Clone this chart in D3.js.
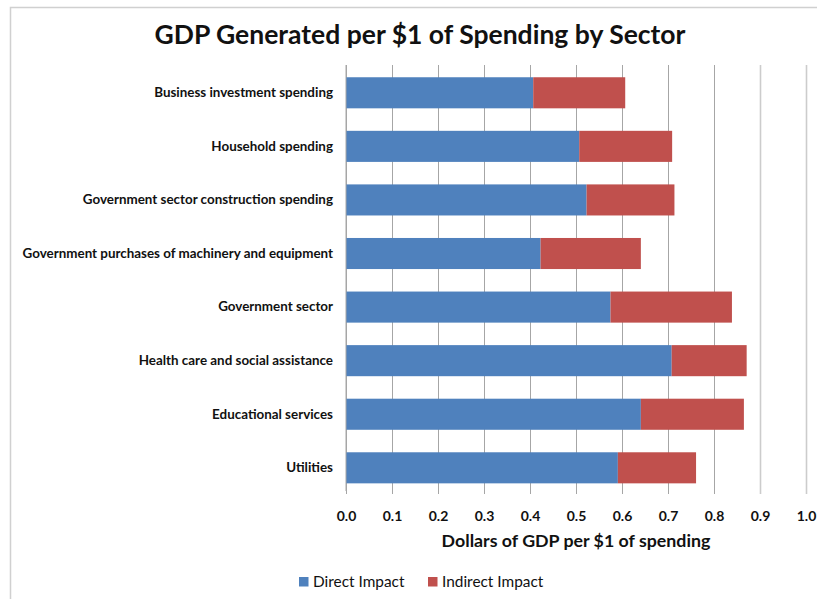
<!DOCTYPE html>
<html>
<head>
<meta charset="utf-8">
<script src="https://cdn.jsdelivr.net/npm/d3@7"></script>
<style>
  html, body { margin: 0; padding: 0; background: #fff; }
  svg { display: block; font-family: Lato, "Open Sans", sans-serif; }
</style>
</head>
<body>
<svg id="chart" width="817" height="599"></svg>
<script>
// Sectors, top to bottom
const sectors = [
  "Business investment spending",
  "Household spending",
  "Government sector construction spending",
  "Government purchases of machinery and equipment",
  "Government sector",
  "Health care and social assistance",
  "Educational services",
  "Utilities"
];
// GDP per $1 of spending
const directImpact   = [0.407, 0.507, 0.523, 0.423, 0.575, 0.708, 0.641, 0.591];
const indirectImpact = [0.200, 0.202, 0.191, 0.218, 0.264, 0.163, 0.224, 0.170];
const xTicks = [0, 0.1, 0.2, 0.3, 0.4, 0.5, 0.6, 0.7, 0.8, 0.9, 1.0];
const seriesNames = ["Direct Impact", "Indirect Impact"];
const seriesColors = ["#4f81bd", "#c0504d"];

const svg = d3.select("#chart");
const W = 817, H = 599;
const plot = { left: 346, right: 806, top: 65, bottom: 491 };

// outer frame
svg.append("rect")
  .attr("x", 10.5).attr("y", 7.5)
  .attr("width", W + 10).attr("height", H + 10)
  .attr("fill", "#fff").attr("stroke", "#d0d0d0").attr("stroke-width", 1.5);

const rows = sectors.map((s, i) => ({ sector: s, direct: directImpact[i], indirect: indirectImpact[i] }));
const stacked = d3.stack().keys(["direct", "indirect"])(rows);

const x = d3.scaleLinear().domain([0, 1]).range([plot.left, plot.right]);
const y = d3.scaleBand().domain(sectors).range([66, 494.6]).paddingInner(0.42).paddingOuter(0.21);
const color = d3.scaleOrdinal().domain(["direct", "indirect"]).range(seriesColors);

// vertical gridlines with outside tick marks
const xAxis = d3.axisBottom(x)
  .tickValues(xTicks)
  .tickSize(-(plot.bottom - plot.top))
  .tickFormat(d3.format(".1f"));
const gx = svg.append("g").attr("transform", `translate(0,${plot.bottom})`).call(xAxis);
gx.select(".domain").remove();
gx.selectAll(".tick line")
  .attr("stroke", d => d >= 0.85 ? "#cccccc" : "#a6a6a6")
  .attr("stroke-width", d => d >= 0.85 ? 1.6 : 1)
  .attr("y2", -(plot.bottom - plot.top))
  .attr("y1", 3);
gx.selectAll(".tick text")
  .attr("y", 20)
  .attr("fill", "#111")
  .style("font-size", "14px")
  .style("font-weight", "bold")
  .style("font-family", "Lato, sans-serif");

// bars
svg.append("g").selectAll("g")
  .data(stacked).join("g")
  .attr("fill", d => color(d.key))
  .selectAll("rect")
  .data(d => d).join("rect")
  .attr("x", d => x(d[0]))
  .attr("width", d => x(d[1]) - x(d[0]))
  .attr("y", d => y(d.data.sector))
  .attr("height", y.bandwidth());

// category axis
const yAxis = d3.axisLeft(y).tickSize(0).tickPadding(13);
const gy = svg.append("g").attr("transform", `translate(${plot.left},0)`).call(yAxis);
gy.select(".domain").remove();
svg.append("line")
  .attr("x1", plot.left).attr("x2", plot.left)
  .attr("y1", plot.top).attr("y2", plot.bottom)
  .attr("stroke", "#a6a6a6");
gy.selectAll(".tick text")
  .attr("fill", "#111")
  .style("font-size", "13.4px")
  .style("font-weight", "bold")
  .style("font-family", "Lato, sans-serif");

// title
svg.append("text")
  .attr("x", 420).attr("y", 44)
  .attr("text-anchor", "middle")
  .attr("fill", "#111")
  .style("font-size", "26.5px")
  .style("font-weight", "bold")
  .text("GDP Generated per $1 of Spending by Sector");

// axis title
svg.append("text")
  .attr("x", 576).attr("y", 547)
  .attr("text-anchor", "middle")
  .attr("fill", "#111")
  .style("font-size", "17.8px")
  .style("font-weight", "bold")
  .text("Dollars of GDP per $1 of spending");

// legend
const legendX = [299, 428];
const legend = svg.append("g").selectAll("g")
  .data(seriesNames).join("g")
  .attr("transform", (d, i) => `translate(${legendX[i]},577)`);
legend.append("rect")
  .attr("width", 9.5).attr("height", 9.5)
  .attr("fill", (d, i) => seriesColors[i]);
legend.append("text")
  .attr("x", 14).attr("y", 10)
  .attr("fill", "#111")
  .style("font-size", "15.4px")
  .text(d => d);
</script>
</body>
</html>
